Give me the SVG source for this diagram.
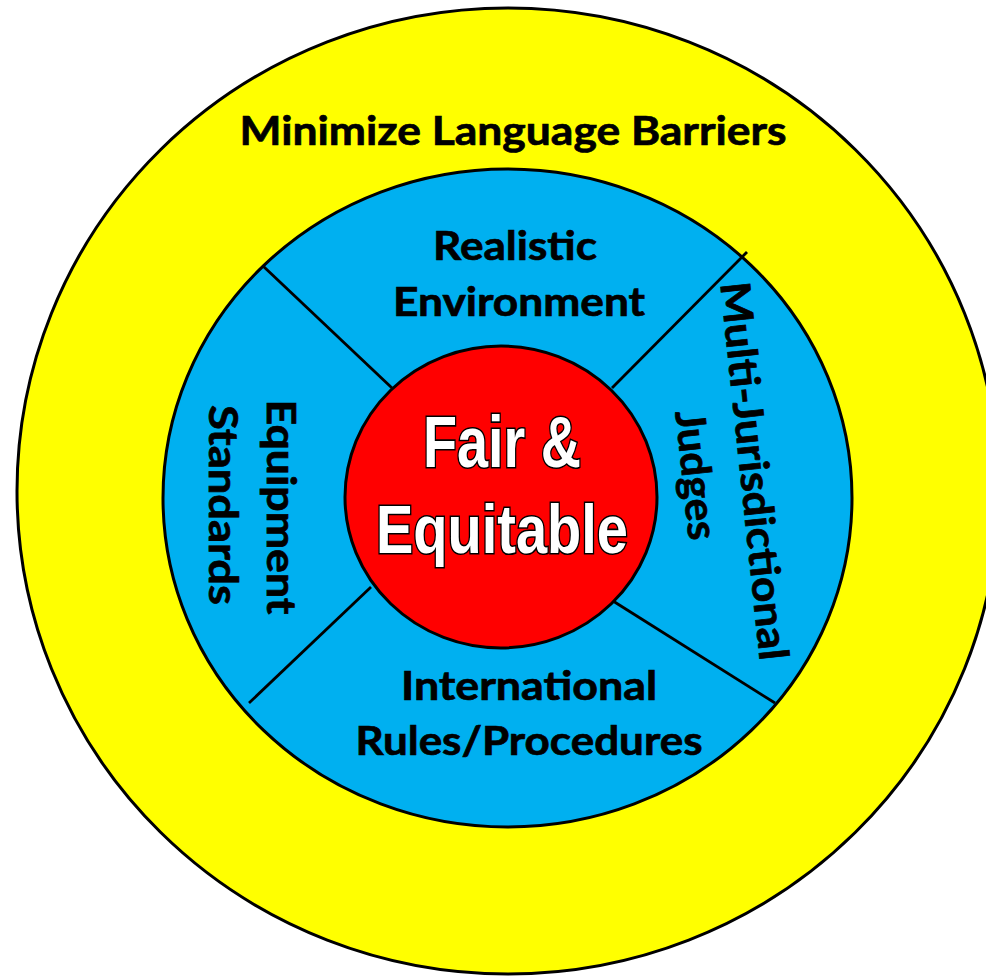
<svg xmlns="http://www.w3.org/2000/svg" width="986" height="976" viewBox="0 0 986 976">
<style>
.lbl{font-family:Lato,"Open Sans","Liberation Sans",sans-serif;font-weight:bold;font-size:41px;fill:#000;stroke:#000;stroke-width:0.7;text-anchor:middle}
.ctr{font-family:"Liberation Sans Narrow","Liberation Sans",Arial,sans-serif;font-weight:bold;fill:#fff;stroke:#000;stroke-width:3.2;paint-order:stroke;text-anchor:middle}
.div{stroke:#000;stroke-width:2.8;fill:none}
</style>
<rect width="986" height="976" fill="#fff"/>
<g id="outer">
<ellipse cx="508" cy="491" rx="491" ry="483" fill="#ffff00" stroke="#000" stroke-width="3"/>
<text class="lbl" x="513" y="145" font-size="42" textLength="547" lengthAdjust="spacingAndGlyphs">Minimize Language Barriers</text>
</g>
<g id="ring">
<ellipse cx="507.5" cy="498" rx="344.5" ry="329" fill="#00b0f0" stroke="#000" stroke-width="3"/>
</g>
<g id="connectors">
<line class="div" x1="392" y1="388" x2="263" y2="266"/>
<line class="div" x1="612" y1="388" x2="747" y2="252"/>
<line class="div" x1="371" y1="587" x2="249" y2="703"/>
<line class="div" x1="613" y1="601" x2="775" y2="703" stroke-width="1.6"/>
</g>
<g id="realistic">
<text class="lbl" x="515" y="260" textLength="164" lengthAdjust="spacingAndGlyphs">Realistic</text>
<text class="lbl" x="519" y="316" textLength="252" lengthAdjust="spacingAndGlyphs">Environment</text>
</g>
<g id="international">
<text class="lbl" x="529" y="700" textLength="256" lengthAdjust="spacingAndGlyphs">International</text>
<text class="lbl" x="529" y="755" textLength="347" lengthAdjust="spacingAndGlyphs">Rules/Procedures</text>
</g>
<g id="equipment">
<text class="lbl" transform="translate(282,507) rotate(90)" x="0" y="15" textLength="215" lengthAdjust="spacingAndGlyphs">Equipment</text>
<text class="lbl" transform="translate(224,505) rotate(90)" x="0" y="15" textLength="200" lengthAdjust="spacingAndGlyphs">Standards</text>
</g>
<g id="judges">
<text class="lbl" transform="translate(755,471) rotate(84)" x="0" y="15" textLength="380" lengthAdjust="spacingAndGlyphs">Multi-Jurisdictional</text>
<text class="lbl" transform="translate(697,475) rotate(84)" x="0" y="15" textLength="130" lengthAdjust="spacingAndGlyphs">Judges</text>
</g>
<g id="center">
<ellipse cx="501" cy="497" rx="156" ry="151" fill="#ff0000" stroke="#000" stroke-width="3"/>
<text class="ctr" x="502" y="467" font-size="72" textLength="158" lengthAdjust="spacingAndGlyphs">Fair &amp;</text>
<text class="ctr" x="502" y="553" font-size="68" textLength="252" lengthAdjust="spacingAndGlyphs">Equitable</text>
</g>
</svg>
